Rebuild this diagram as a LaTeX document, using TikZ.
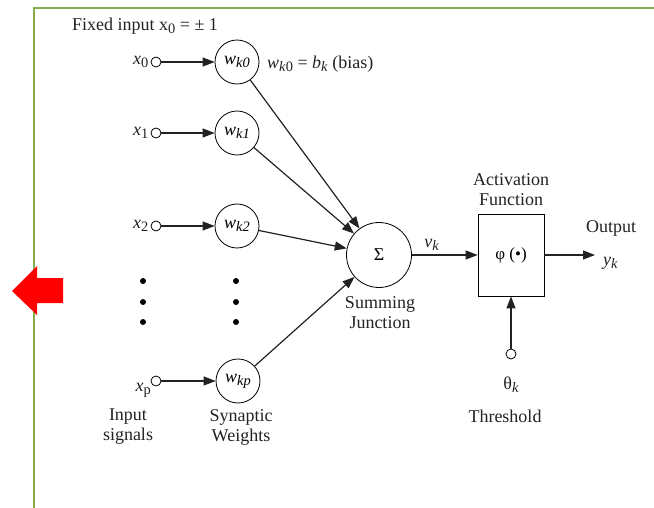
\documentclass[tikz,border=0pt]{standalone}
\usepackage{fontspec}
\setmainfont{Liberation Serif}
\usepackage{xcolor}
\usetikzlibrary{arrows.meta, positioning}
\definecolor{framegreen}{HTML}{86AC4C}
\definecolor{inkgray}{HTML}{222222}
\newcommand{\lowidx}[1]{\raisebox{-0.35ex}{\scalebox{0.8}{#1}}}

\begin{document}
\begin{tikzpicture}[
    x=1pt, y=-1pt,
    >={Triangle[length=12pt, width=9pt]},
    txt/.style={font=\rmfamily\fontsize{18}{20}\selectfont, text=inkgray, align=center, inner sep=1pt},
    wcirc/.style={draw, circle, line width=0.8pt, minimum size=44pt, inner sep=0pt, font=\rmfamily\fontsize{18}{20}\selectfont\itshape},
    port/.style={draw, circle, line width=0.8pt, minimum size=10pt, inner sep=0pt},
    sumcirc/.style={draw, circle, line width=0.8pt, minimum size=65pt, inner sep=0pt, font=\rmfamily\fontsize{18}{20}\selectfont},
    actbox/.style={draw, rectangle, line width=0.8pt, minimum width=66pt, minimum height=82pt, inner sep=0pt, font=\rmfamily\fontsize{17}{19}\selectfont},
    link/.style={->, line width=1.2pt, inkgray},
    bigdot/.style={circle, fill=black, minimum size=6pt, inner sep=0pt},
]
    \useasboundingbox (0,0) rectangle (654,508);

    % Frame and marker
    \draw[framegreen, line width=2pt] (654,8) -- (34,8) -- (34,508);
    \fill[red] (12,291) -- (37,266) -- (37,278) -- (63,278) -- (63,303) -- (37,303) -- (37,315) -- cycle;

    \node[txt, anchor=west] (fixed) at (71,26) {Fixed input x\lowidx{0} = ± 1};

    % Inputs
    \node[port] (p0) at (156,62) {};
    \node[port] (p1) at (156,133) {};
    \node[port] (p2) at (156,226) {};
    \node[port] (pp) at (156,381) {};
    \node[txt, left=1pt of p0] (x0) {\textit{x}\lowidx{0}};
    \node[txt, left=1pt of p1] (x1) {\textit{x}\lowidx{1}};
    \node[txt, left=1pt of p2] (x2) {\textit{x}\lowidx{2}};
    \node[txt, anchor=east] (xp) at (152,390) {\textit{x}\lowidx{p}};

    % Weights
    \node[wcirc] (w0) at (237,62) {w\lowidx{k0}};
    \node[wcirc] (w1) at (237,133) {w\lowidx{k1}};
    \node[wcirc] (w2) at (237,226) {w\lowidx{k2}};
    \node[wcirc] (wp) at (238,381) {w\lowidx{kp}};
    \node[txt, anchor=west] (bias) at (266,64) {\textit{w}\lowidx{\textit{k}0} = \textit{b}\lowidx{\textit{k}} (bias)};

    \foreach \px in {143,236} {
        \foreach \py in {281,302,322} {
            \node[bigdot] at (\px,\py) {};
        }
    }

    \draw[link] (p0) -- (w0);
    \draw[link] (p1) -- (w1);
    \draw[link] (p2) -- (w2);
    \draw[link] (pp) -- (wp);

    \node[txt] (insig) at (128,427) {Input\\signals};
    \node[txt] (synw) at (241,427) {Synaptic\\Weights};

    % Summing junction
    \node[sumcirc] (sum) at (379,255) {Σ};
    \node[txt] (sumlbl) at (380,313) {Summing\\Junction};
    \draw[link] (w0) -- (sum);
    \draw[link] (w1) -- (sum);
    \draw[link] (w2) -- (sum);
    \draw[link] (wp) -- (sum);

    % Activation
    \node[actbox] (act) at (511,255) {φ (•)};
    \node[txt] (actlbl) at (511,190) {Activation\\Function};
    \draw[link] (sum) -- node[txt, pos=0.3, above=3pt] (vk) {\textit{v}\lowidx{\textit{k}}} (act);

    \coordinate (outend) at (595,255);
    \draw[link] (act) -- (outend);
    \node[txt] (outlbl) at (611,228) {Output};
    \node[txt, anchor=west] (yk) at (602,263) {\textit{y}\lowidx{\textit{k}}};

    % Threshold
    \node[port] (thr) at (511,354) {};
    \draw[link] (thr) -- (act);
    \node[txt] (theta) at (511,385) {θ\lowidx{\textit{k}}};
    \node[txt] (thrlbl) at (505,416) {Threshold};
\end{tikzpicture}
\end{document}
